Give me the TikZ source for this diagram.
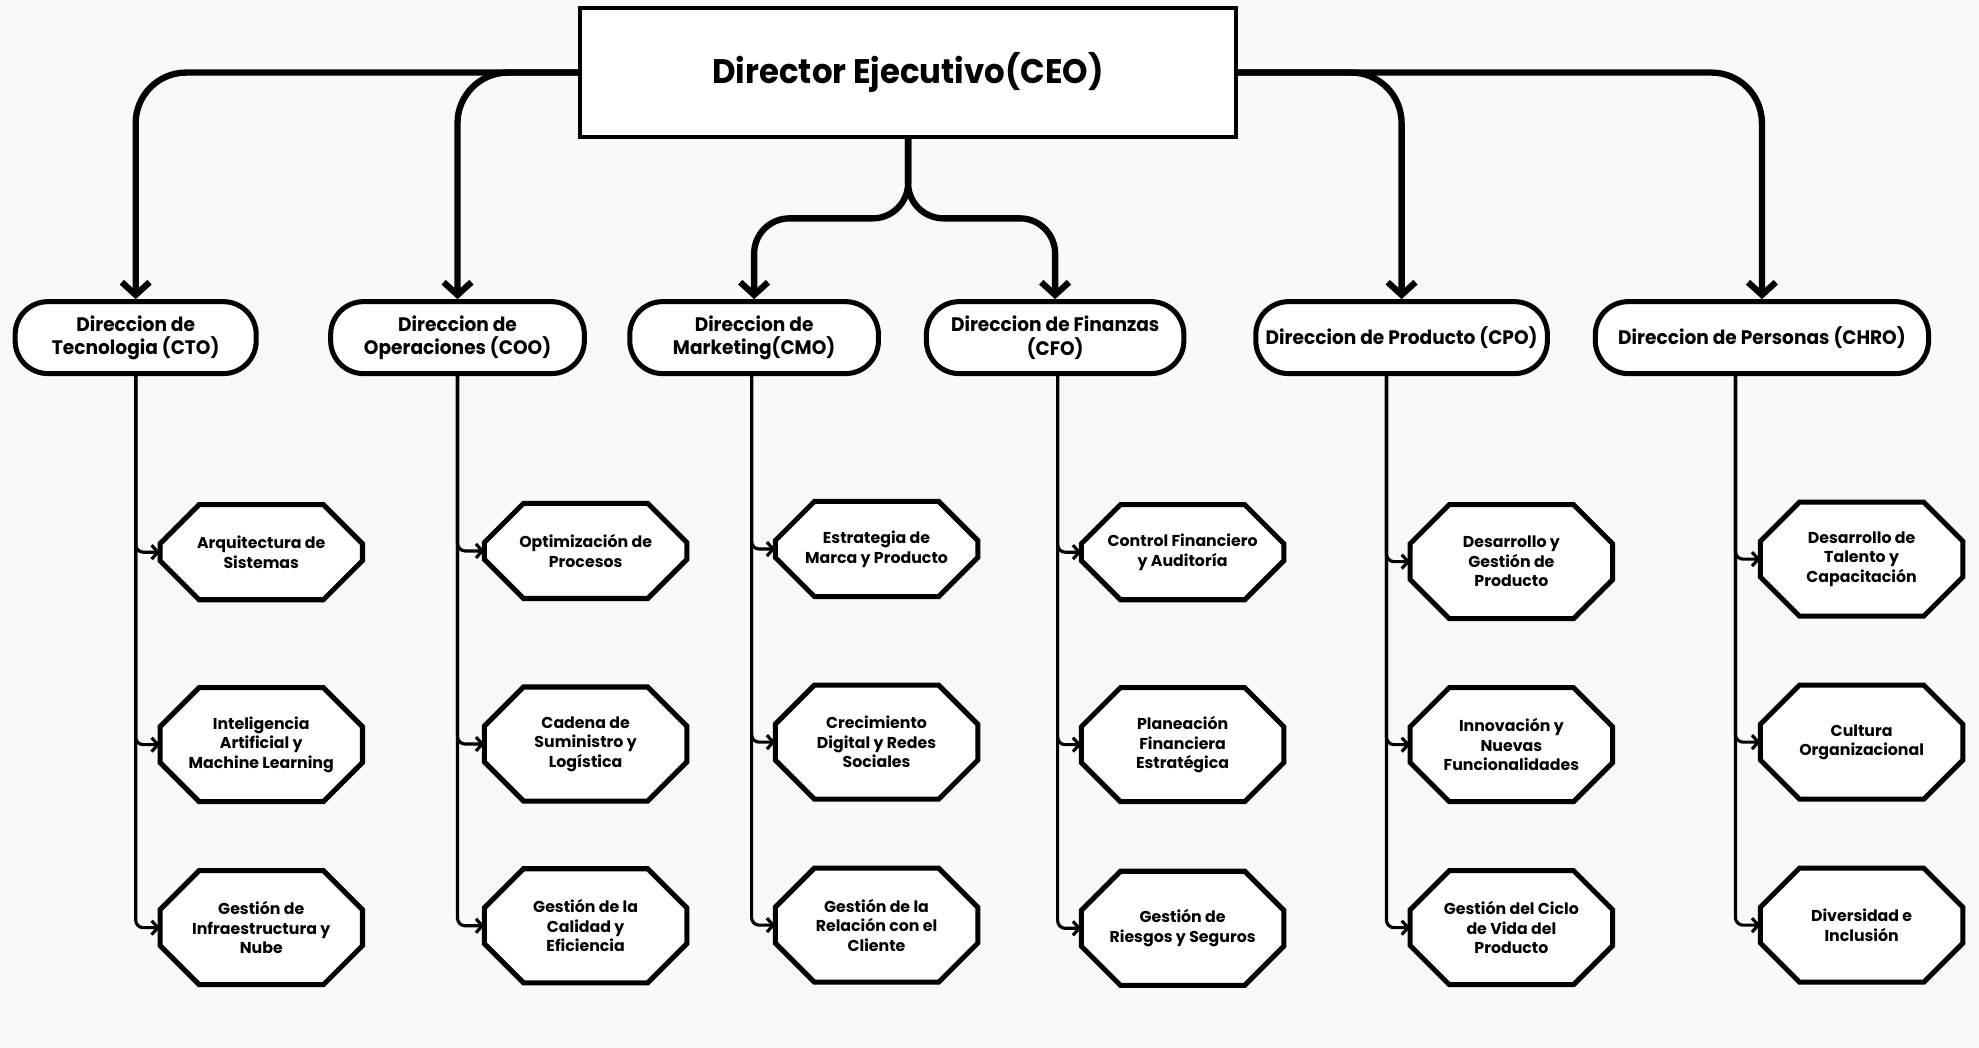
\documentclass[tikz,border=0pt]{standalone}
\usepackage{fontspec}
\setmainfont{Poppins}
\newfontfamily\headfont[FakeStretch=0.95]{Poppins}
\usetikzlibrary{arrows.meta}
\definecolor{paper}{RGB}{249,249,249}
\pgfdeclarelayer{back}
\pgfsetlayers{back,main}
\tikzset{
  ceobox/.style={draw,line width=3pt,fill=white,minimum width=520pt,minimum height=102pt,
    font=\headfont\bfseries\fontsize{27}{32}\selectfont},
  dirbox/.style={draw,line width=4pt,fill=white,rounded corners=26pt,minimum height=57pt,
    inner sep=2pt,align=center,font=\headfont\bfseries\fontsize{15.5}{18.5}\selectfont},
  areabox/.style={rectangle,minimum width=160pt,minimum height=90pt,
    inner sep=1pt,align=center,font=\bfseries\fontsize{12.5}{15.5}\selectfont},
  areashort/.style={areabox,minimum height=75pt},
  octo/.style={draw,line width=4pt,fill=white,line join=miter},
  bus/.style={line width=5pt,rounded corners=40pt,-{Straight Barb[length=10pt,width=22pt]}},
  feed/.style={line width=2.5pt,rounded corners=6pt,-{Straight Barb[length=5pt,width=11pt]}},
}
\begin{document}
\begin{tikzpicture}[x=1pt,y=-1pt]
  \useasboundingbox (0,0) rectangle (1568,830);

  % top level
  \node[ceobox] (ceo) at (719.5,57.5) {Director Ejecutivo(CEO)};

  % direcciones
  \node[dirbox,minimum width=191pt] (cto)  at (107.5,267.5) {Direccion de\\Tecnologia (CTO)};
  \node[dirbox,minimum width=201pt] (coo)  at (362.5,267.5) {Direccion de\\Operaciones (COO)};
  \node[dirbox,minimum width=197pt] (cmo)  at (597.5,267.5) {Direccion de\\Marketing(CMO)};
  \node[dirbox,minimum width=204pt] (cfo)  at (836,267.5)   {Direccion de Finanzas\\(CFO)};
  \node[dirbox,minimum width=231pt] (cpo)  at (1110.5,267.5) {Direccion de Producto (CPO)};
  \node[dirbox,minimum width=264pt] (chro) at (1396,267.5)  {Direccion de Personas (CHRO)};

  \draw[bus] (ceo.west) -| (cto.north);
  \draw[bus] (ceo.west) -| (coo.north);
  \draw[bus,rounded corners=28pt] (ceo.south) |- ([yshift=64pt]cmo.north) -- (cmo.north);
  \draw[bus,rounded corners=28pt] (ceo.south) |- ([yshift=64pt]cfo.north) -- (cfo.north);
  \draw[bus] (ceo.east) -| (cpo.north);
  \draw[bus] (ceo.east) -| (chro.north);

  % tecnologia
  \node[areashort] (cto1) at (207,437.5) {Arquitectura de\\Sistemas};
  \node[areabox]   (cto2) at (207,590)   {Inteligencia\\Artificial y\\Machine Learning};
  \node[areabox]   (cto3) at (207,735)   {Gestión de\\Infraestructura y\\Nube};
  % operaciones
  \node[areashort] (coo1) at (464,436.5) {Optimización de\\Procesos};
  \node[areabox]   (coo2) at (464,589.5) {Cadena de\\Suministro y\\Logística};
  \node[areabox]   (coo3) at (464,733.5) {Gestión de la\\Calidad y\\Eficiencia};
  % marketing
  \node[areashort] (cmo1) at (694.5,435) {Estrategia de\\Marca y Producto};
  \node[areabox]   (cmo2) at (694.5,588) {Crecimiento\\Digital y Redes\\Sociales};
  \node[areabox]   (cmo3) at (694.5,733) {Gestión de la\\Relación con el\\Cliente};
  % finanzas
  \node[areashort] (cfo1) at (937,437.5) {Control Financiero\\y Auditoría};
  \node[areabox]   (cfo2) at (937,590)   {Planeación\\Financiera\\Estratégica};
  \node[areabox]   (cfo3) at (937,735.5) {Gestión de\\Riesgos y Seguros};
  % producto
  \node[areabox] (cpo1) at (1197.5,445) {Desarrollo y\\Gestión de\\Producto};
  \node[areabox] (cpo2) at (1197.5,590) {Innovación y\\Nuevas\\Funcionalidades};
  \node[areabox] (cpo3) at (1197.5,735) {Gestión del Ciclo\\de Vida del\\Producto};
  % personas
  \node[areabox] (chro1) at (1475,443) {Desarrollo de\\Talento y\\Capacitación};
  \node[areabox] (chro2) at (1475,588) {Cultura\\Organizacional};
  \node[areabox] (chro3) at (1475,733) {Diversidad e\\Inclusión};

  % octagon outlines behind the texts
  \begin{pgfonlayer}{back}
    \fill[paper] (0,0) rectangle (1568,830);
    \foreach \n in {cto1,cto2,cto3,coo1,coo2,coo3,cmo1,cmo2,cmo3,
                    cfo1,cfo2,cfo3,cpo1,cpo2,cpo3,chro1,chro2,chro3}
      \draw[octo] ([xshift=31pt]\n.north west) -- ([xshift=-31pt]\n.north east)
        -- ([yshift=-31pt]\n.north east) -- ([yshift=31pt]\n.south east)
        -- ([xshift=-31pt]\n.south east) -- ([xshift=31pt]\n.south west)
        -- ([yshift=31pt]\n.south west) -- ([yshift=-31pt]\n.north west) -- cycle;
  \end{pgfonlayer}

  \draw[feed] (cto.south) |- (cto1.west);
  \draw[feed] (cto.south) |- (cto2.west);
  \draw[feed] (cto.south) |- (cto3.west);
  \draw[feed] (coo.south) |- (coo1.west);
  \draw[feed] (coo.south) |- (coo2.west);
  \draw[feed] (coo.south) |- (coo3.west);
  \draw[feed] ([xshift=-2pt]cmo.south) |- (cmo1.west);
  \draw[feed] ([xshift=-2pt]cmo.south) |- (cmo2.west);
  \draw[feed] ([xshift=-2pt]cmo.south) |- (cmo3.west);
  \draw[feed] ([xshift=2pt]cfo.south) |- (cfo1.west);
  \draw[feed] ([xshift=2pt]cfo.south) |- (cfo2.west);
  \draw[feed] ([xshift=2pt]cfo.south) |- (cfo3.west);
  \draw[feed] ([xshift=-12pt]cpo.south) |- (cpo1.west);
  \draw[feed] ([xshift=-12pt]cpo.south) |- (cpo2.west);
  \draw[feed] ([xshift=-12pt]cpo.south) |- (cpo3.west);
  \draw[feed] ([xshift=-21pt]chro.south) |- (chro1.west);
  \draw[feed] ([xshift=-21pt]chro.south) |- (chro2.west);
  \draw[feed] ([xshift=-21pt]chro.south) |- (chro3.west);
\end{tikzpicture}
\end{document}
